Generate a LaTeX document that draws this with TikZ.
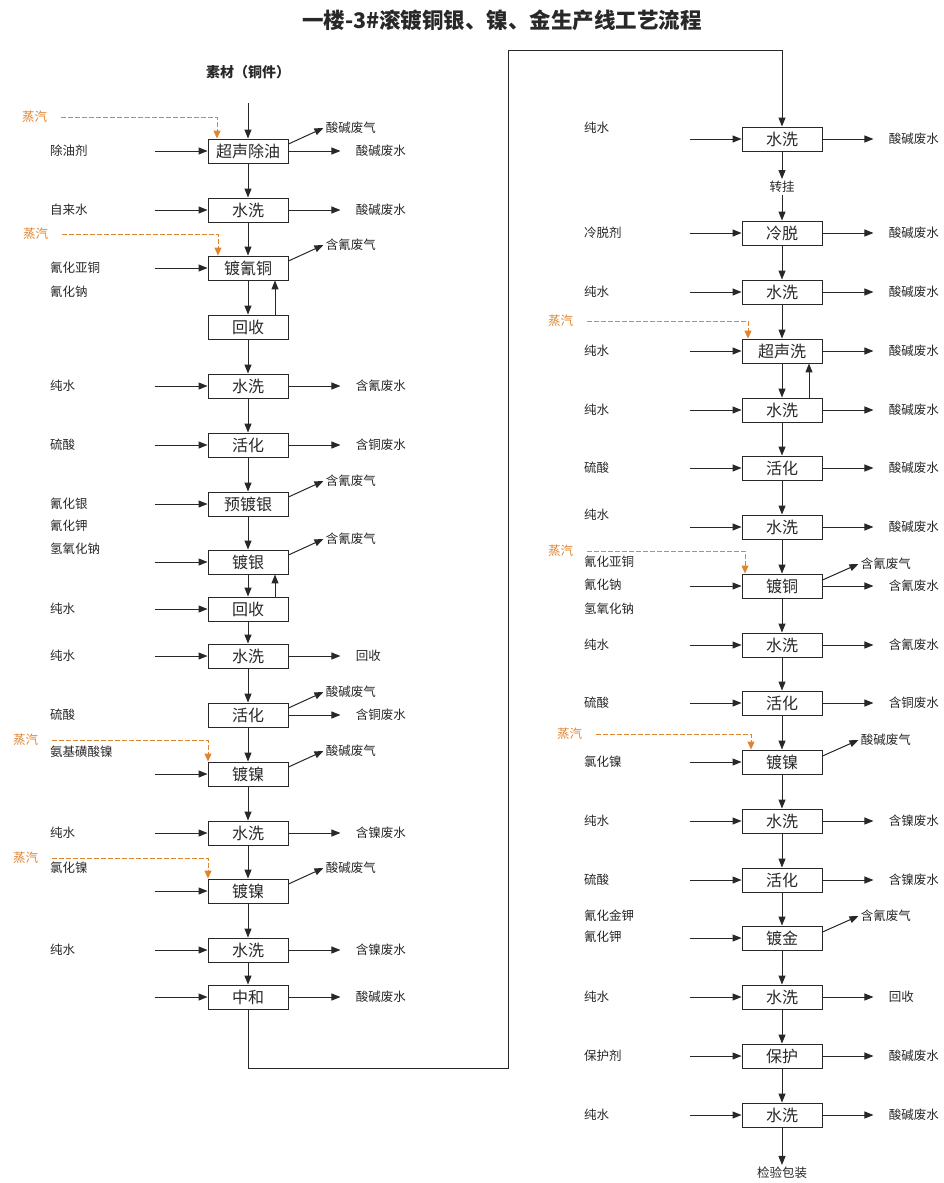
\documentclass[tikz,border=0pt]{standalone}
\usepackage{fontspec}
\setmainfont{Noto Sans CJK SC}
\usepackage{tikz}
\usetikzlibrary{arrows.meta, positioning}
\usepackage{xcolor}
\definecolor{ink}{RGB}{40,40,40}
\definecolor{steamc}{RGB}{224,132,48}

\begin{document}
\begin{tikzpicture}[x=1pt, y=-1pt, every node/.style={text=ink},
  proc/.style={draw=ink, line width=0.9pt, minimum width=80pt, minimum height=24pt, inner sep=0pt, font=\fontsize{16}{16}\selectfont},
  lab/.style={anchor=west, inner sep=0pt, font=\fontsize{12.5}{13}\selectfont},
  flow/.style={draw=ink, line width=1pt, -{Triangle[length=9pt,width=7pt]}},
  steamline/.style={draw=steamc, line width=1pt, dash pattern=on 4.5pt off 2.5pt, -{Triangle[length=8pt,width=7pt]}},
  steamlab/.style={anchor=west, inner sep=0pt, text=steamc, font=\fontsize{12.5}{13}\selectfont}]
\useasboundingbox (0,0) rectangle (943,1183);

\node[font=\bfseries\fontsize{21.5}{22}\selectfont] (title) at (502,20) {一楼-3\#滚镀铜银、镍、金生产线工艺流程};

% left column
\node[font=\bfseries\fontsize{14}{14}\selectfont] (src) at (248,72) {素材（铜件）};
\coordinate (feed) at (248,103);
\foreach \n/\y/\t in {L1/151/超声除油, L2/210/水洗, L3/268/镀氰铜, L4/327/回收, L5/386/水洗, L6/445/活化,
    L7/504/预镀银, L8/562/镀银, L9/609/回收, L10/656/水洗, L11/715/活化, L12/774/镀镍,
    L13/833/水洗, L14/891/镀镍, L15/950/水洗, L16/997/中和}
  \node[proc] (\n) at (248,\y) {\t};
\draw[flow] (feed) -- (L1);
\foreach \a/\b in {L1/L2, L2/L3, L3/L4, L4/L5, L5/L6, L6/L7, L7/L8, L8/L9, L9/L10, L10/L11,
    L11/L12, L12/L13, L13/L14, L14/L15, L15/L16}
  \draw[flow] (\a) -- (\b);
\draw[flow] ([xshift=27pt]L4.north) -- ([xshift=27pt]L3.south);
\draw[flow] ([xshift=27pt]L9.north) -- ([xshift=27pt]L8.south);

% left inputs
\foreach \y/\t [count=\k] in {151/除油剂, 210/自来水, 268/氰化亚铜, 292/氰化钠, 386/纯水, 445/硫酸,
    504/氰化银, 526/氰化钾, 549/氢氧化钠, 609/纯水, 656/纯水, 715/硫酸, 752/氨基磺酸镍,
    833/纯水, 868/氯化镍, 950/纯水}
  \node[lab] (inl-\k) at (50,\y) {\t};
\foreach \n in {L1, L2, L3, L5, L6, L7, L8, L9, L10, L12, L13, L14, L15, L16}
  \draw[flow] ([xshift=-53pt]\n.west) -- (\n.west);

% left outputs
\foreach \n/\t in {L1/酸碱废水, L2/酸碱废水, L5/含氰废水, L6/含铜废水, L10/回收, L11/含铜废水,
    L13/含镍废水, L15/含镍废水, L16/酸碱废水}
  \draw[flow] (\n.east) -- ++(52,0) node[lab, right=15pt] (w-\n) {\t};
\foreach \n/\t in {L1/酸碱废气, L3/含氰废气, L7/含氰废气, L8/含氰废气, L11/酸碱废气, L12/酸碱废气, L14/酸碱废气}
  \draw[flow] (\n.east) ++(0,-7) -- ++(35,-16) node[lab, right=2pt] (g-\n) {\t};

% steam, left
\node[steamlab] (st1) at (22,117) {蒸汽};
\node[steamlab] (st2) at (23,234) {蒸汽};
\node[steamlab] (st3) at (13,740) {蒸汽};
\node[steamlab] (st4) at (13,858) {蒸汽};
\draw[steamline] ([xshift=14pt]st1.east) -| ([xshift=-31pt]L1.north);
\draw[steamline] ([xshift=14pt]st2.east) -| ([xshift=-30pt]L3.north);
\draw[steamline] ([xshift=14pt]st3.east) -| ([xshift=-40pt]L12.north);
\draw[steamline] ([xshift=14pt]st4.east) -| ([xshift=-40pt]L14.north);

% link to right column
\coordinate (turnA) at (508,1068);
\coordinate (turnB) at (508,50);

% right column
\foreach \n/\y/\t in {R1/139/水洗, R2/233/冷脱, R3/292/水洗, R4/351/超声洗, R5/410/水洗, R6/468/活化,
    R7/527/水洗, R8/586/镀铜, R9/645/水洗, R10/703/活化, R11/762/镀镍, R12/821/水洗,
    R13/880/活化, R14/938/镀金, R15/997/水洗, R16/1056/保护, R17/1115/水洗}
  \node[proc] (\n) at (782,\y) {\t};
\node[lab, anchor=center, inner sep=2pt] (hang) at (782,187) {转挂};
\node[lab, anchor=center, inner sep=2pt] (pack) at (782,1173) {检验包装};
\draw[flow] (L16) |- (turnA) -- (turnB) -| (R1);
\foreach \a/\b in {R1/hang, hang/R2, R2/R3, R3/R4, R4/R5, R5/R6, R6/R7, R7/R8, R8/R9, R9/R10,
    R10/R11, R11/R12, R12/R13, R13/R14, R14/R15, R15/R16, R16/R17, R17/pack}
  \draw[flow] (\a) -- (\b);
\draw[flow] ([xshift=27pt]R5.north) -- ([xshift=27pt]R4.south);

% right inputs
\foreach \y/\t [count=\k] in {128/纯水, 233/冷脱剂, 292/纯水, 351/纯水, 410/纯水, 468/硫酸, 515/纯水,
    562/氰化亚铜, 585/氰化钠, 609/氢氧化钠, 645/纯水, 703/硫酸, 762/氯化镍, 821/纯水, 880/硫酸,
    916/氰化金钾, 937/氰化钾, 997/纯水, 1056/保护剂, 1115/纯水}
  \node[lab] (inr-\k) at (584,\y) {\t};
\foreach \n in {R1, R2, R3, R4, R5, R6, R7, R8, R9, R10, R11, R12, R13, R14, R15, R16, R17}
  \draw[flow] ([xshift=-52pt]\n.west) -- (\n.west);

% right outputs
\foreach \n/\t in {R1/酸碱废水, R2/酸碱废水, R3/酸碱废水, R4/酸碱废水, R5/酸碱废水, R6/酸碱废水,
    R7/酸碱废水, R8/含氰废水, R9/含氰废水, R10/含铜废水, R12/含镍废水, R13/含镍废水,
    R15/回收, R16/酸碱废水, R17/酸碱废水}
  \draw[flow] (\n.east) -- ++(51,0) node[lab, right=15pt] (w-\n) {\t};
\foreach \n/\t in {R8/含氰废气, R11/酸碱废气, R14/含氰废气}
  \draw[flow] (\n.east) ++(0,-6) -- ++(36,-16) node[lab, right=2pt] (g-\n) {\t};

% steam, right
\node[steamlab] (st5) at (548,321) {蒸汽};
\node[steamlab] (st6) at (548,551) {蒸汽};
\node[steamlab] (st7) at (557,734) {蒸汽};
\draw[steamline] ([xshift=14pt]st5.east) -| ([xshift=-34pt]R4.north);
\draw[steamline] ([xshift=14pt]st6.east) -| ([xshift=-37pt]R8.north);
\draw[steamline] ([xshift=14pt]st7.east) -| ([xshift=-31pt]R11.north);
\end{tikzpicture}
\end{document}
